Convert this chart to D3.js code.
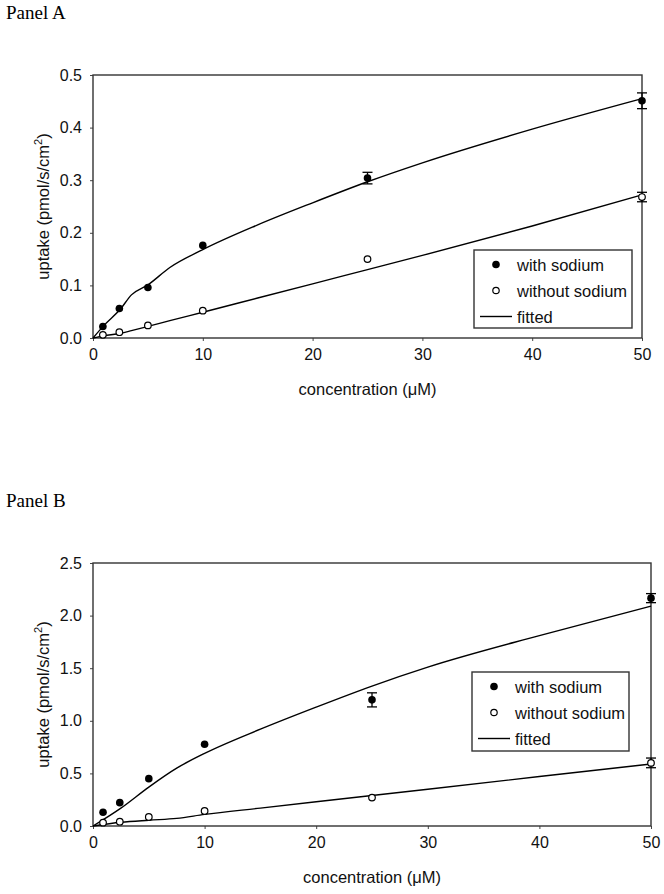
<!DOCTYPE html>
<html>
<head>
<meta charset="utf-8">
<script src="https://cdn.jsdelivr.net/npm/d3@7"></script>
<style>
  html, body { margin: 0; padding: 0; background: #fff; }
  svg { display: block; }
</style>
</head>
<body>
<svg id="chart" width="664" height="894"></svg>
<script>
// ---------- DATA ----------
const concentrations = [0.9, 2.4, 5, 10, 25, 50];

// Panel A
const aWithSodium    = [0.022, 0.056, 0.096, 0.176, 0.304, 0.451];
const aWithSodiumErr = [0, 0, 0, 0, 0.011, 0.015];
const aWithout       = [0.006, 0.011, 0.024, 0.052, 0.150, 0.268];
const aWithoutErr    = [0, 0, 0, 0, 0, 0.009];
const aFitX          = [0, 1, 2.5, 3.5, 5, 7, 10, 15, 20, 25, 30, 40, 50];
const aFitWith       = [0, 0.024, 0.055, 0.082, 0.101, 0.134, 0.168, 0.215, 0.257, 0.297, 0.333, 0.397, 0.455];
const aFitWithout    = [0, 0.004, 0.009, 0.014, 0.022, 0.033, 0.049, 0.076, 0.103, 0.130, 0.157, 0.213, 0.272];
const aYTicks        = [0, 0.1, 0.2, 0.3, 0.4, 0.5];

// Panel B
const bWithSodium    = [0.130, 0.222, 0.450, 0.777, 1.199, 2.166];
const bWithSodiumErr = [0, 0, 0, 0, 0.067, 0.043];
const bWithout       = [0.032, 0.041, 0.086, 0.143, 0.270, 0.600];
const bWithoutErr    = [0, 0, 0, 0, 0, 0.046];
const bFitX          = [0, 2.5, 5, 7.5, 10, 15, 20, 25, 30, 40, 50];
const bFitWith       = [0, 0.17, 0.37, 0.55, 0.69, 0.92, 1.13, 1.33, 1.51, 1.81, 2.09];
const bFitWithout    = [0, 0.035, 0.055, 0.072, 0.11, 0.17, 0.23, 0.29, 0.35, 0.47, 0.59];
const bYTicks        = [0, 0.5, 1.0, 1.5, 2.0, 2.5];

const xTicks = [0, 10, 20, 30, 40, 50];
const legendLabels = ["with sodium", "without sodium", "fitted"];

// ---------- DRAW ----------
const svg = d3.select("#chart");
const SANS = "'Liberation Sans', Arial, Helvetica, sans-serif";
const SERIF = "'Liberation Serif', 'Times New Roman', serif";

function panel(cfg) {
  const g = svg.append("g");
  const x = d3.scaleLinear().domain([0, 50]).range([cfg.left, cfg.right]);
  const y = d3.scaleLinear().domain([0, cfg.yMax]).range([cfg.bottom, cfg.top]);

  // Panel title
  g.append("text").attr("x", 6).attr("y", cfg.titleY)
    .attr("font-family", SERIF).attr("font-size", 19).attr("fill", "#000")
    .text(cfg.title);

  // Axes
  const xAxis = d3.axisBottom(x).tickValues(xTicks).tickSize(3).tickPadding(8).tickFormat(d3.format("d"));
  const yAxis = d3.axisLeft(y).tickValues(cfg.yTicks).tickSize(3).tickPadding(8).tickFormat(d3.format(".1f"));
  const gx = g.append("g").attr("transform", `translate(0,${cfg.bottom})`).call(xAxis);
  const gy = g.append("g").attr("transform", `translate(${cfg.left},0)`).call(yAxis);
  [gx, gy].forEach(a => {
    a.select(".domain").remove();
    a.selectAll(".tick line").attr("stroke", "#444").attr("stroke-width", 1);
    a.selectAll(".tick text").attr("font-family", SANS).attr("font-size", 16).attr("fill", "#111");
  });

  // Frame
  g.append("rect").attr("x", cfg.left).attr("y", cfg.top)
    .attr("width", cfg.right - cfg.left).attr("height", cfg.bottom - cfg.top)
    .attr("fill", "none").attr("stroke", "#333").attr("stroke-width", 1.4);

  // Fitted lines
  const line = d3.line().x(d => x(d[0])).y(d => y(d[1])).curve(d3.curveMonotoneX);
  [cfg.fitWith, cfg.fitWithout].forEach(arr => {
    g.append("path").datum(cfg.fitX.map((v, i) => [v, arr[i]]))
      .attr("d", line).attr("fill", "none").attr("stroke", "#000").attr("stroke-width", 1.4);
  });

  // Error bars
  function errBars(vals, errs) {
    const data = concentrations.map((c, i) => ({ c, v: vals[i], e: errs[i] })).filter(d => d.e > 0);
    const eg = g.append("g").attr("stroke", "#000").attr("stroke-width", 1.3);
    data.forEach(d => {
      eg.append("line").attr("x1", x(d.c)).attr("x2", x(d.c)).attr("y1", y(d.v - d.e)).attr("y2", y(d.v + d.e));
      [d.v - d.e, d.v + d.e].forEach(v => {
        eg.append("line").attr("x1", x(d.c) - 5).attr("x2", x(d.c) + 5).attr("y1", y(v)).attr("y2", y(v));
      });
    });
  }
  errBars(cfg.withS, cfg.withSErr);
  errBars(cfg.without, cfg.withoutErr);

  // Points
  g.append("g").selectAll("circle").data(concentrations.map((c, i) => [c, cfg.withS[i]]))
    .join("circle").attr("cx", d => x(d[0])).attr("cy", d => y(d[1])).attr("r", 3.8).attr("fill", "#000");
  g.append("g").selectAll("circle").data(concentrations.map((c, i) => [c, cfg.without[i]]))
    .join("circle").attr("cx", d => x(d[0])).attr("cy", d => y(d[1])).attr("r", 3.3)
    .attr("fill", "#fff").attr("stroke", "#000").attr("stroke-width", 1.2);

  // Axis titles
  g.append("text").attr("x", (cfg.left + cfg.right) / 2).attr("y", cfg.bottom + 57)
    .attr("text-anchor", "middle").attr("font-family", SANS).attr("font-size", 16.5).attr("fill", "#111")
    .text("concentration (\u03BCM)");
  const yt = g.append("text")
    .attr("transform", `translate(49,${(cfg.top + cfg.bottom) / 2}) rotate(-90)`)
    .attr("text-anchor", "middle").attr("font-family", SANS).attr("font-size", 16.5).attr("fill", "#111");
  yt.append("tspan").text("uptake (pmol/s/cm");
  yt.append("tspan").attr("font-size", 11).attr("dy", -7).text("2");
  yt.append("tspan").attr("dy", 7).text(")");

  // Legend
  const L = cfg.legend;
  g.append("rect").attr("x", L.x).attr("y", L.y).attr("width", L.w).attr("height", L.h)
    .attr("fill", "#fff").attr("stroke", "#333").attr("stroke-width", 1.4);
  const rowH = 26;
  const r0 = L.y + 14.5;
  g.append("circle").attr("cx", L.x + 22).attr("cy", r0).attr("r", 3.8).attr("fill", "#000");
  g.append("circle").attr("cx", L.x + 22).attr("cy", r0 + rowH).attr("r", 3.2)
    .attr("fill", "#fff").attr("stroke", "#000").attr("stroke-width", 1.2);
  g.append("line").attr("x1", L.x + 6).attr("x2", L.x + 38).attr("y1", r0 + 2 * rowH).attr("y2", r0 + 2 * rowH)
    .attr("stroke", "#000").attr("stroke-width", 1.4);
  legendLabels.forEach((t, i) => {
    g.append("text").attr("x", L.x + 43).attr("y", r0 + i * rowH + 6)
      .attr("font-family", SANS).attr("font-size", 16.5).attr("fill", "#111").text(t);
  });
}

panel({
  title: "Panel A", titleY: 19,
  left: 93, right: 642, top: 75, bottom: 338, yMax: 0.5, yTicks: aYTicks,
  withS: aWithSodium, withSErr: aWithSodiumErr, without: aWithout, withoutErr: aWithoutErr,
  fitX: aFitX, fitWith: aFitWith, fitWithout: aFitWithout,
  legend: { x: 474, y: 250, w: 158, h: 78 }
});

panel({
  title: "Panel B", titleY: 507,
  left: 93, right: 651, top: 563, bottom: 826, yMax: 2.5, yTicks: bYTicks,
  withS: bWithSodium, withSErr: bWithSodiumErr, without: bWithout, withoutErr: bWithoutErr,
  fitX: bFitX, fitWith: bFitWith, fitWithout: bFitWithout,
  legend: { x: 472, y: 672, w: 157, h: 79 }
});
</script>
</body>
</html>
